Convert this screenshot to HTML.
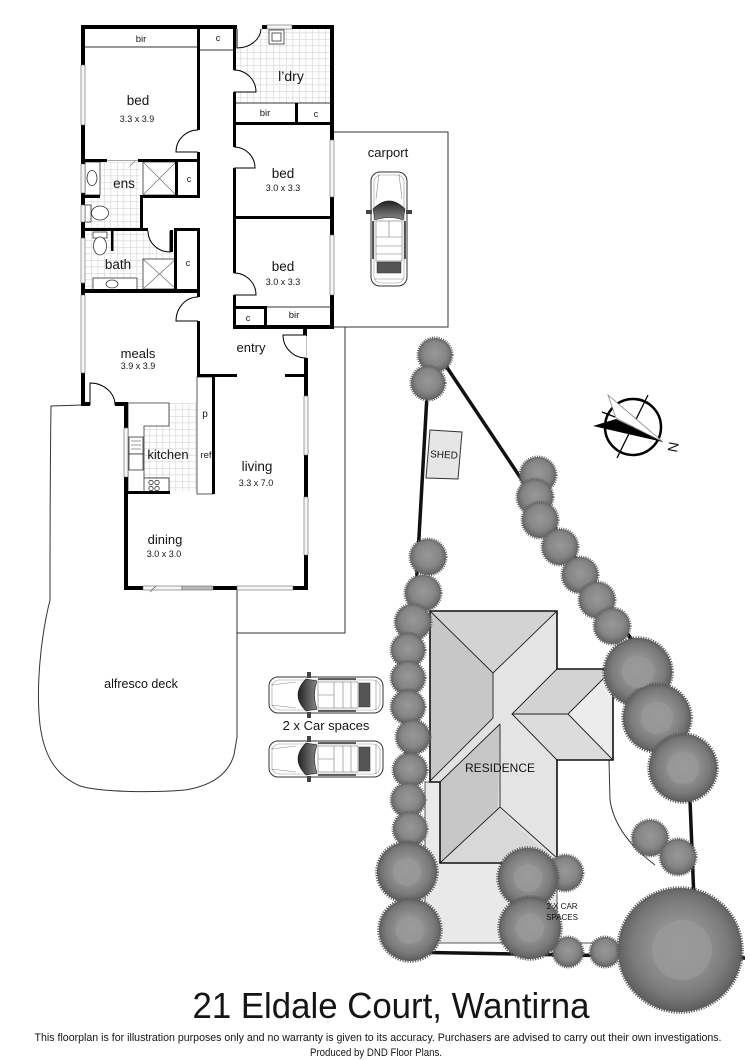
<!DOCTYPE html>
<html><head><meta charset="utf-8"><style>
html,body{margin:0;padding:0;background:#fff;}
svg{display:block;}
text{font-family:"Liberation Sans",sans-serif;fill:#151515;}
</style></head><body>
<svg width="750" height="1060" viewBox="0 0 750 1060" xmlns="http://www.w3.org/2000/svg">
<defs>
<pattern id="tile" width="6.5" height="6.5" patternUnits="userSpaceOnUse"><path d="M0,0.3H6.5M0.3,0V6.5" stroke="#d6d6d6" stroke-width="0.7" fill="none"/></pattern>
<radialGradient id="tg" cx="50%" cy="45%" r="55%"><stop offset="0" stop-color="#989898"/><stop offset="0.6" stop-color="#868686"/><stop offset="1" stop-color="#626262"/></radialGradient>
<radialGradient id="bg" cx="50%" cy="48%" r="52%"><stop offset="0" stop-color="#9c9c9c"/><stop offset="0.45" stop-color="#8e8e8e"/><stop offset="0.75" stop-color="#7a7a7a"/><stop offset="1" stop-color="#5c5c5c"/></radialGradient>
<linearGradient id="ws" x1="0" y1="0" x2="0" y2="1"><stop offset="0" stop-color="#222"/><stop offset="1" stop-color="#888"/></linearGradient>
<g id="car">
<rect x="-18" y="-57" width="36" height="114" rx="9" fill="#fff" stroke="#333" stroke-width="1"/>
<rect x="-15" y="-54" width="30" height="108" rx="7" fill="none" stroke="#999" stroke-width="0.6"/>
<path d="M-10,-55 L-13,-30 M10,-55 L13,-30" stroke="#888" stroke-width="0.6" fill="none"/>
<path d="M-16,-20 Q0,-36 16,-20 L14,-9 Q0,-14 -14,-9 Z" fill="url(#ws)" stroke="#222" stroke-width="0.6"/>
<path d="M-16,-8 V30 M16,-8 V30" stroke="#333" stroke-width="1.6"/>
<rect x="-13" y="-8" width="26" height="40" fill="none" stroke="#777" stroke-width="0.6"/>
<path d="M0,-8 V8 M-13,8 H13 M-13,17 H13 M-13,25 H13" stroke="#777" stroke-width="0.6"/>
<rect x="-12" y="33" width="24" height="11" fill="#555" stroke="#333" stroke-width="0.5"/>
<rect x="-23" y="-19" width="6" height="4" fill="#444"/>
<rect x="17" y="-19" width="6" height="4" fill="#444"/>
<path d="M-15,50 H15" stroke="#888" stroke-width="0.6"/>
</g>
</defs>

<!-- outlines: alfresco, carport, yard -->
<path d="M82,405 L51,406 C50,480 50,560 50,600 C40,640 36,690 40,725 C44,755 55,775 80,786 C100,792 150,793 185,790 C210,786 228,775 234,755 L237,737 L237,588" fill="none" stroke="#333" stroke-width="1"/>
<path d="M333,132 H448 V327 H333 M345,327 V633 H237 V590" fill="none" stroke="#333" stroke-width="1"/>

<!-- tiles -->
<rect x="236" y="29" width="94" height="74" fill="url(#tile)"/>
<rect x="85" y="162" width="55" height="66" fill="url(#tile)"/>
<rect x="85" y="231" width="91" height="58" fill="url(#tile)"/>
<rect x="144" y="403" width="53" height="88" fill="url(#tile)"/>

<!-- fixtures -->
<g fill="#fff" stroke="#333" stroke-width="0.8">
<rect x="269" y="30" width="15" height="14"/><rect x="272" y="33" width="9" height="8" fill="none"/>
<rect x="143" y="162" width="33" height="33"/><rect x="143" y="259" width="33" height="30"/>
<rect x="85" y="162" width="15" height="33"/><ellipse cx="92" cy="178" rx="5" ry="7.5"/>
<rect x="85" y="205" width="6" height="17"/><ellipse cx="100" cy="213" rx="8.5" ry="7"/>
<rect x="93" y="232" width="14" height="6"/><ellipse cx="100" cy="246" rx="6.5" ry="9"/>
<rect x="93" y="278" width="44" height="12"/><ellipse cx="112" cy="284" rx="6" ry="4"/>
<path d="M128,403 H169 V426 H144 V478 H169 V493 H128 Z"/>
<rect x="129" y="437" width="14" height="17"/><rect x="129" y="454" width="14" height="16"/>
<path d="M131,441 H141 M131,445 H141 M131,449 H141" fill="none" stroke-width="0.5"/>
<rect x="144" y="478" width="25" height="15"/>
<circle cx="151" cy="482.5" r="2.2"/><circle cx="157" cy="482.5" r="2.2"/><circle cx="151" cy="488.5" r="2.2"/><circle cx="157" cy="488.5" r="2.2"/>
<rect x="197" y="377" width="16" height="117"/>
</g>
<path d="M143,162 L176,195 M176,162 L143,195 M143,259 L176,289 M176,259 L143,289" stroke="#666" stroke-width="0.6"/>
<path d="M85,47 H197 M200,50 H233 M236,103 H330 M267,307 H330" stroke="#333" stroke-width="1"/>
<path d="M107,160.5 H138 M130,166 L136,160" stroke="#888" stroke-width="0.8"/>

<!-- walls -->
<g fill="#000">
<rect x="81" y="25" width="156" height="4"/><rect x="262" y="25" width="72" height="4"/>
<rect x="330" y="25" width="4" height="304"/><rect x="81" y="25" width="4" height="381"/>
<rect x="233" y="325" width="101" height="4"/><rect x="303" y="325" width="4" height="11"/>
<rect x="304" y="358" width="4" height="232"/><rect x="124" y="586" width="184" height="4"/>
<rect x="124" y="402" width="4" height="188"/>
<rect x="81" y="402" width="9" height="4"/><rect x="115" y="402" width="13" height="4"/>
<rect x="197" y="27" width="3" height="103"/><rect x="197" y="152" width="3" height="10"/>
<rect x="81" y="159" width="26" height="3"/><rect x="138" y="159" width="62" height="3"/>
<rect x="233" y="27" width="3" height="43"/><rect x="233" y="92" width="3" height="55"/>
<rect x="233" y="168" width="3" height="105"/><rect x="233" y="295" width="3" height="32"/>
<rect x="233" y="122" width="101" height="3"/><rect x="295" y="103" width="3" height="20"/>
<rect x="233" y="216" width="101" height="3"/>
<rect x="233" y="306" width="34" height="3"/><rect x="264" y="307" width="3" height="19"/>
<rect x="175" y="160" width="3" height="38"/><rect x="140" y="195" width="60" height="3"/>
<rect x="81" y="195" width="19" height="3"/><rect x="140" y="195" width="3" height="36"/>
<rect x="197" y="160" width="3" height="38"/>
<rect x="81" y="228" width="67" height="3"/><rect x="170" y="230" width="3" height="22"/>
<rect x="174" y="228" width="3" height="64"/><rect x="174" y="228" width="26" height="3"/>
<rect x="197" y="228" width="3" height="64"/><rect x="111" y="231" width="2.5" height="20"/>
<rect x="81" y="289" width="119" height="4"/>
<rect x="197" y="292" width="3" height="5"/><rect x="197" y="321" width="3" height="56"/>
<rect x="197" y="374" width="40" height="3"/><rect x="285" y="374" width="23" height="3"/>
<rect x="212" y="377" width="3" height="117"/><rect x="124" y="491" width="46" height="3"/>
</g>

<!-- windows -->
<g fill="#f6f6f6" stroke="#666" stroke-width="0.6">
<rect x="267" y="25" width="25" height="4"/>
<rect x="81" y="65" width="4" height="60"/><rect x="81" y="164" width="4" height="29"/><rect x="81" y="205" width="4" height="17"/>
<rect x="81" y="238" width="4" height="45"/><rect x="81" y="295" width="4" height="78"/>
<rect x="330" y="140" width="4" height="57"/><rect x="330" y="235" width="4" height="60"/>
<rect x="304" y="396" width="4" height="59"/><rect x="304" y="497" width="4" height="58"/>
<rect x="124" y="428" width="4" height="49"/>
<rect x="143" y="586" width="39" height="4"/><rect x="182" y="586" width="31" height="4" fill="#bbb"/><rect x="237" y="586" width="56" height="4"/>
</g>
<path d="M306,336 V358 M150,592 L156,586" stroke="#666" stroke-width="0.8"/>

<!-- doors -->
<g fill="#fff" stroke="#000" stroke-width="1">
<path d="M237,29 V48 A24,20 0 0,0 261,29"/>
<path d="M234,70 A22,22 0 0,1 256,92 H234"/>
<path d="M234,147 A21,21 0 0,1 255,168 H234"/>
<path d="M234,273 A22,22 0 0,1 256,295 H234"/>
<path d="M198,130 A22,22 0 0,0 176,152 H198"/>
<path d="M148,231 A22,21 0 0,0 170,252 V231"/>
<path d="M198,297 A22,24 0 0,0 176,321 H198"/>
<path d="M90,405 V383 A25,22 0 0,1 115,405"/>
<path d="M306,335 H283 A23,23 0 0,0 306,358"/>
</g>

<!-- labels -->
<g text-anchor="middle">
<text x="141" y="42" font-size="9.5">bir</text>
<text x="218" y="41" font-size="9">c</text>
<text x="291" y="81" font-size="14">l’dry</text>
<text x="265" y="116" font-size="9.5">bir</text>
<text x="316" y="117" font-size="9">c</text>
<text x="138" y="105" font-size="13.5">bed</text>
<text x="137" y="122" font-size="9">3.3 x 3.9</text>
<text x="124" y="188" font-size="13.5">ens</text>
<text x="189" y="182" font-size="9">c</text>
<text x="283" y="178" font-size="13.5">bed</text>
<text x="283" y="191" font-size="9">3.0 x 3.3</text>
<text x="118" y="269" font-size="13.5">bath</text>
<text x="188" y="266" font-size="9">c</text>
<text x="283" y="271" font-size="13.5">bed</text>
<text x="283" y="285" font-size="9">3.0 x 3.3</text>
<text x="248" y="321" font-size="9">c</text>
<text x="294" y="318" font-size="9.5">bir</text>
<text x="138" y="358" font-size="13">meals</text>
<text x="138" y="369" font-size="9">3.9 x 3.9</text>
<text x="251" y="352" font-size="13">entry</text>
<text x="205" y="417" font-size="10">p</text>
<text x="206" y="458" font-size="9.5">ref</text>
<text x="168" y="459" font-size="13">kitchen</text>
<text x="257" y="471" font-size="13.5">living</text>
<text x="256" y="486" font-size="9">3.3 x 7.0</text>
<text x="165" y="544" font-size="13">dining</text>
<text x="164" y="557" font-size="9">3.0 x 3.0</text>
<text x="388" y="157" font-size="13">carport</text>
<text x="141" y="688" font-size="12.5">alfresco deck</text>
<text x="326" y="730" font-size="13">2 x Car spaces</text>
</g>

<!-- cars -->
<use href="#car" transform="translate(389,229)"/>
<use href="#car" transform="translate(326,695) rotate(-90)"/>
<use href="#car" transform="translate(326,759) rotate(-90)"/>

<!-- site -->
<path d="M430,342 L416,590 L405,770 L400,950 M432,345 L522,480 L632,640 L690,800 L694,900 M400,952 L745,958" fill="none" stroke="#111" stroke-width="3.5"/>
<path d="M609,760 L610,800 Q615,835 655,865" fill="none" stroke="#333" stroke-width="1"/>
<polygon points="430,430 462,432 458,479 426,478" fill="#e6e6e6" stroke="#333" stroke-width="1"/>
<text x="444" y="458" font-size="10" text-anchor="middle" transform="rotate(3 444 455)">SHED</text>

<!-- compass -->
<circle cx="633" cy="427" r="28" fill="none" stroke="#000" stroke-width="2.5"/>
<path d="M617,458 L648,395 M602,412 L615,417" stroke="#000" stroke-width="1.3"/>
<polygon points="608,395 663,442 616,418" fill="#fff" stroke="#888" stroke-width="0.8"/>
<polygon points="593,426 616,419 663,442" fill="#000"/>
<text x="673" y="452" font-size="14" transform="rotate(-80 673 447)" text-anchor="middle">N</text>

<!-- residence -->
<rect x="425" y="782" width="132" height="161" fill="#e9e9e9" stroke="#555" stroke-width="1"/>
<path d="M425,943 H593" stroke="#555" stroke-width="1"/>
<polygon points="430,611 557,611 557,669 613,669 613,760 557,760 557,863 440,863 440,782 430,782" fill="#e4e4e4"/>
<polygon points="430,611 557,611 493,673" fill="#d3d3d3"/>
<polygon points="430,611 493,673 493,718 430,780" fill="#c7c7c7"/>
<polygon points="493,718 500,724 440,782 431,782" fill="#e2e2e2"/>
<polygon points="500,724 498,807 440,863 440,782" fill="#c7c7c7"/>
<polygon points="498,807 440,863 557,863" fill="#d8d8d8"/>
<polygon points="557,669 613,669 568,714 512,714" fill="#d3d3d3"/>
<polygon points="512,714 568,714 613,760 557,760" fill="#dcdcdc"/>
<polygon points="568,714 613,669 613,760" fill="#ececec"/>
<g fill="none" stroke="#222" stroke-width="0.9">
<path d="M430,611 L493,673 L557,611 M493,673 V718 L430,781 M500,724 L440,782 M500,724 V807 L440,863 M500,807 L557,858"/>
<path d="M557,669 L512,714 L557,760 M512,714 H568 L613,669 M568,714 L613,760"/>
</g>
<polygon points="430,611 557,611 557,669 613,669 613,760 557,760 557,863 440,863 440,782 430,782" fill="none" stroke="#111" stroke-width="1.6"/>
<text x="500" y="772" font-size="12" text-anchor="middle">RESIDENCE</text>

<!-- trees -->
<g fill="url(#tg)" stroke="#646464" stroke-width="3" stroke-dasharray="1 1.2">
<circle cx="435" cy="355" r="17"/><circle cx="428" cy="383" r="17"/>
<circle cx="538" cy="475" r="18"/><circle cx="535" cy="497" r="18"/><circle cx="540" cy="520" r="18"/>
<circle cx="560" cy="547" r="18"/><circle cx="580" cy="575" r="18"/><circle cx="597" cy="600" r="18"/><circle cx="612" cy="626" r="18"/>
<circle cx="428" cy="557" r="18"/><circle cx="423" cy="593" r="18"/><circle cx="413" cy="622" r="18"/>
<circle cx="408" cy="650" r="17"/><circle cx="408" cy="678" r="17"/><circle cx="408" cy="707" r="17"/>
<circle cx="413" cy="737" r="17"/><circle cx="410" cy="770" r="17"/><circle cx="408" cy="800" r="17"/><circle cx="410" cy="829" r="17"/>
<circle cx="650" cy="838" r="18"/><circle cx="678" cy="857" r="18"/>
<circle cx="565" cy="873" r="18"/><circle cx="568" cy="952" r="15"/><circle cx="605" cy="952" r="15"/>
</g>
<g fill="url(#bg)" stroke="#5e5e5e" stroke-width="3.5" stroke-dasharray="1.2 1.3">
<circle cx="638" cy="672" r="34"/><circle cx="657" cy="718" r="34"/><circle cx="683" cy="768" r="34"/>
<circle cx="407" cy="872" r="30"/><circle cx="410" cy="930" r="31"/>
<circle cx="528" cy="878" r="30"/><circle cx="530" cy="928" r="31"/>
<circle cx="680" cy="950" r="62"/>
</g>
<g fill="#9a9a9a" opacity="0.7">
<circle cx="638" cy="672" r="16"/><circle cx="657" cy="718" r="16"/><circle cx="683" cy="768" r="16"/>
<circle cx="407" cy="872" r="14"/><circle cx="410" cy="930" r="14"/>
<circle cx="528" cy="878" r="14"/><circle cx="530" cy="928" r="14"/>
<circle cx="682" cy="950" r="30"/>
</g>
<text x="562" y="909" font-size="8" text-anchor="middle">2 X CAR</text>
<text x="562" y="920" font-size="8" text-anchor="middle">SPACES</text>

<!-- title -->
<text x="391" y="1018" font-size="36" text-anchor="middle" textLength="397" lengthAdjust="spacingAndGlyphs" style="font-family:'Liberation Sans Narrow','Liberation Sans',sans-serif">21 Eldale Court, Wantirna</text>
<text x="378" y="1041" font-size="11" text-anchor="middle" textLength="687" lengthAdjust="spacingAndGlyphs" style="font-family:'Liberation Sans Narrow','Liberation Sans',sans-serif">This floorplan is for illustration purposes only and no warranty is given to its accuracy. Purchasers are advised to carry out their own investigations.</text>
<text x="376" y="1056" font-size="11" text-anchor="middle" textLength="132" lengthAdjust="spacingAndGlyphs" style="font-family:'Liberation Sans Narrow','Liberation Sans',sans-serif">Produced by DND Floor Plans.</text>
</svg>
</body></html>
